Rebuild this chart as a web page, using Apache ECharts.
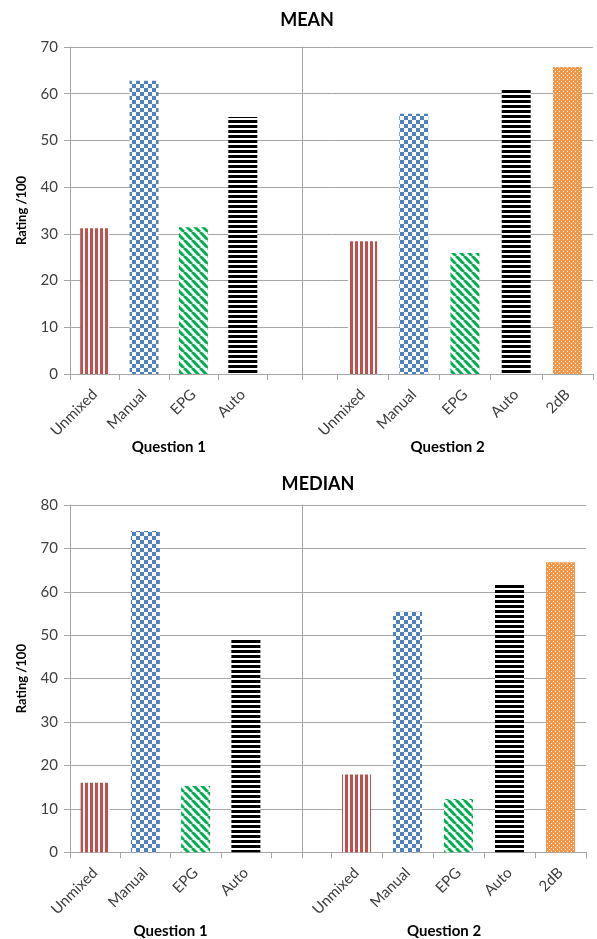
<!DOCTYPE html>
<html>
<head>
<meta charset="utf-8">
<script src="https://cdn.jsdelivr.net/npm/echarts@6/dist/echarts.min.js"></script>
<style>
html,body{margin:0;padding:0;background:#fff;}
#chart{width:597px;height:939px;}
</style>
</head>
<body>
<div id="chart"></div>
<script>
// ---- data ----
const categoriesQ1 = ['Unmixed', 'Manual', 'EPG', 'Auto'];
const categoriesQ2 = ['Unmixed', 'Manual', 'EPG', 'Auto', '2dB'];
const meanQ1 = [31.2, 62.8, 31.4, 55.0];
const meanQ2 = [28.4, 55.7, 25.9, 61.0, 65.7];
const medianQ1 = [16.0, 74.0, 15.3, 49.1];
const medianQ2 = [17.9, 55.4, 12.3, 61.6, 66.8];
const meanAxisMax = 70;
const medianAxisMax = 80;
const axisInterval = 10;
const titles = ['MEAN', 'MEDIAN'];
const groupNames = ['Question 1', 'Question 2'];
const yAxisName = 'Rating /100';

// ---- patterns ----
function tile(w, h, draw) {
  const c = document.createElement('canvas');
  c.width = w; c.height = h;
  const ctx = c.getContext('2d');
  ctx.fillStyle = '#ffffff';
  ctx.fillRect(0, 0, w, h);
  draw(ctx);
  return { image: c, repeat: 'repeat' };
}
const patterns = {
  'Unmixed': tile(5, 4, ctx => {
    ctx.fillStyle = '#c0504d';
    ctx.fillRect(0, 0, 3, 4);
  }),
  'Manual': tile(8, 8, ctx => {
    ctx.fillStyle = '#4f81bd';
    ctx.fillRect(0, 0, 4, 4);
    ctx.fillRect(4, 4, 4, 4);
  }),
  'EPG': tile(8, 8, ctx => {
    ctx.strokeStyle = '#00b050';
    ctx.lineWidth = 3;
    for (const k of [-8, 0, 8]) {
      ctx.beginPath(); ctx.moveTo(k, 0); ctx.lineTo(k + 8, 8); ctx.stroke();
    }
  }),
  'Auto': tile(4, 5, ctx => {
    ctx.fillStyle = '#000000';
    ctx.fillRect(0, 0, 4, 3);
  }),
  '2dB': tile(4, 4, ctx => {
    ctx.fillStyle = '#f79646';
    ctx.fillRect(0, 0, 4, 4);
    ctx.fillStyle = '#ffffff';
    ctx.fillRect(1, 1, 1, 1);
    ctx.fillRect(3, 3, 1, 1);
  })
};

const FONT = 'Lato, "Liberation Sans", sans-serif';
const GRAY = '#a6a6a6';
const TXT = '#404040';

function dataOf(cats, vals) {
  return vals.map((v, i) => ({ value: v, itemStyle: { color: patterns[cats[i]] } }));
}

// layout per panel (pixel geometry)
const panels = [
  { top: 47, height: 327, right: 593, q1w: 197.5, q2left: 337, values: [meanQ1, meanQ2], max: meanAxisMax, title: titles[0], titleX: 302, titleTop: 6, nameGap: 66 },
  { top: 505, height: 347.3, right: 586, q1w: 201, q2left: 331, values: [medianQ1, medianQ2], max: medianAxisMax, title: titles[1], titleX: 313, titleTop: 470, nameGap: 71 }
];

const grid = [], xAxis = [], yAxis = [], series = [], title = [];
panels.forEach((p, pi) => {
  const base = grid.length;
  grid.push({ left: 70, width: p.right - 70, top: p.top, height: p.height, outerBoundsMode: 'none', containLabel: false });
  grid.push({ left: 70, width: p.q1w, top: p.top, height: p.height, outerBoundsMode: 'none', containLabel: false });
  grid.push({ left: 302, width: p.right - 302, top: p.top, height: p.height, outerBoundsMode: 'none', containLabel: false });
  grid.push({ left: p.q2left, width: p.right - p.q2left, top: p.top, height: p.height, outerBoundsMode: 'none', containLabel: false });

  title.push({ text: p.title, left: p.titleX, top: p.titleTop, textAlign: 'center',
    textStyle: { fontFamily: FONT, fontSize: 18, fontWeight: 'bold', color: '#000' } });

  // background grid
  yAxis.push({ gridIndex: base, type: 'value', min: 0, max: p.max, interval: axisInterval,
    axisLine: { show: true, lineStyle: { color: GRAY, width: 1 } },
    axisTick: { show: true, length: 6, inside: false, lineStyle: { color: GRAY } },
    axisLabel: { show: true, margin: 12, fontSize: 15, color: TXT, fontFamily: FONT },
    splitLine: { show: true, lineStyle: { color: GRAY, width: 1 } },
    name: yAxisName, nameLocation: 'middle', nameGap: 42, nameMoveOverlap: false,
    nameTextStyle: { fontFamily: FONT, fontSize: 13, fontWeight: 'bold', color: '#000' } });
  xAxis.push({ gridIndex: base, type: 'value', min: 0, max: 1,
    axisLine: { show: true, onZero: false, lineStyle: { color: GRAY, width: 1 } },
    axisTick: { show: false }, axisLabel: { show: false }, splitLine: { show: false } });

  // Q1 grid
  yAxis.push({ gridIndex: base + 1, type: 'value', min: 0, max: p.max, interval: axisInterval, show: false });
  xAxis.push({ gridIndex: base + 1, type: 'category', data: categoriesQ1,
    axisLine: { show: false },
    axisTick: { show: true, length: 6, lineStyle: { color: GRAY } },
    axisLabel: { interval: 0, rotate: 45, margin: 18, fontSize: 15, color: TXT, fontFamily: FONT, hideOverlap: false },
    splitLine: { show: false },
    name: groupNames[0], nameLocation: 'middle', nameGap: p.nameGap, nameMoveOverlap: false,
    nameTextStyle: { fontFamily: FONT, fontSize: 15, fontWeight: 'bold', color: '#000' } });

  // Q2 backdrop grid (divider + group name)
  yAxis.push({ gridIndex: base + 2, type: 'value', min: 0, max: p.max, interval: axisInterval,
    axisLine: { show: true, lineStyle: { color: GRAY, width: 1 } },
    axisTick: { show: false }, axisLabel: { show: false }, splitLine: { show: false } });
  xAxis.push({ gridIndex: base + 2, type: 'value', min: 0, max: 1, interval: 1,
    axisLine: { show: false },
    axisTick: { show: true, length: 6, lineStyle: { color: GRAY } },
    axisLabel: { show: false }, splitLine: { show: false },
    name: groupNames[1], nameLocation: 'middle', nameGap: p.nameGap, nameMoveOverlap: false,
    nameTextStyle: { fontFamily: FONT, fontSize: 15, fontWeight: 'bold', color: '#000' } });

  // Q2 grid
  yAxis.push({ gridIndex: base + 3, type: 'value', min: 0, max: p.max, interval: axisInterval, show: false });
  xAxis.push({ gridIndex: base + 3, type: 'category', data: categoriesQ2,
    axisLine: { show: false },
    axisTick: { show: true, length: 6, lineStyle: { color: GRAY } },
    axisLabel: { interval: 0, rotate: 45, margin: 18, fontSize: 15, color: TXT, fontFamily: FONT, hideOverlap: false },
    splitLine: { show: false } });

  series.push({ type: 'bar', xAxisIndex: base + 1, yAxisIndex: base + 1, barWidth: 29,
    data: dataOf(categoriesQ1, p.values[0]), silent: true, animation: false });
  series.push({ type: 'bar', xAxisIndex: base + 3, yAxisIndex: base + 3, barWidth: 29,
    data: dataOf(categoriesQ2, p.values[1]), silent: true, animation: false });
});

const chart = echarts.init(document.getElementById('chart'), null, { renderer: 'canvas' });
chart.setOption({
  animation: false,
  backgroundColor: '#fff',
  textStyle: { fontFamily: FONT },
  title, grid, xAxis, yAxis, series
});
</script>
</body>
</html>
